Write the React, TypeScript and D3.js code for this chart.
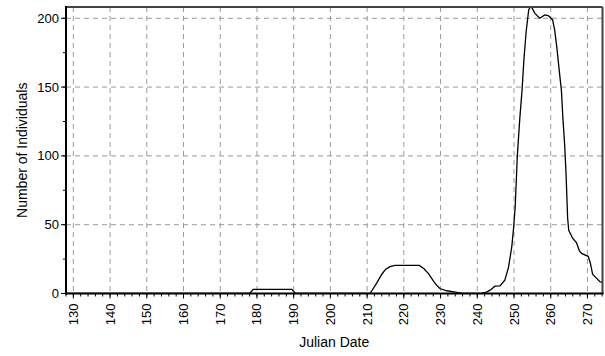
import React from "react";
import * as d3 from "d3";

const days: number[] = [128, 177, 178, 179, 189.5, 190.5, 210.8, 212.6, 214, 215, 216.2, 217.6, 224.2, 225.5, 226.7, 228.5, 229.8, 231.7, 234.4, 236, 241, 242.5, 243.5, 244.8, 246.2, 247.5, 248.5, 249.4, 249.9, 250.3, 250.6, 250.9, 251.6, 252.2, 252.7, 253.3, 254, 254.6, 255.7, 257, 258.4, 259.3, 260.5, 261.1, 261.7, 262.4, 262.9, 263.3, 263.8, 264.2, 264.6, 264.9, 266, 267, 267.8, 268.5, 270.2, 270.8, 271.4, 272.5, 273.4, 274, 274.7];
const counts: number[] = [0, 0, 0, 3, 3, 0, 0, 7.5, 14, 17.5, 19.5, 20.4, 20.4, 18, 14.5, 7.3, 3.6, 2, 0.8, 0, 0, 1, 2.4, 5.3, 5.5, 9.7, 19, 34, 48, 62, 80, 100, 128, 148, 170, 190, 206, 209, 203.6, 200, 202.4, 202, 199, 191, 178, 160, 148, 128, 108, 85, 55, 46, 40, 37, 31, 29, 27, 22, 14, 11, 8.5, 8, 9.7];

const xMajorTicks: number[] = [130, 140, 150, 160, 170, 180, 190, 200, 210, 220, 230, 240, 250, 260, 270];
const yMajorTicks: number[] = [0, 50, 100, 150, 200];
const xLabel = "Julian Date";
const yLabel = "Number of Individuals";

export default function App() {
  const W = 605, H = 356;
  const left = 66, right = 602.5, top = 7, bottom = 293.5;
  const x = d3.scaleLinear().domain([128, 274.1]).range([left, right]);
  const y = d3.scaleLinear().domain([0, 208.2]).range([bottom, top]);
  const xMinor = d3.range(128, 275, 2);
  const yMinor = d3.range(0, 208, 25);
  const data = days.map((d, i) => [d, counts[i]] as [number, number]);
  const line = d3.line<[number, number]>().x((d) => x(d[0])).y((d) => y(d[1]));
  const font = "Liberation Sans, Arial, sans-serif";
  const grid = "#9a9a9a";
  return (
    <svg width={W} height={H} style={{ position: "absolute", left: 0, top: 0, background: "#fff" }}>
      <defs>
        <clipPath id="plot">
          <rect x={left} y={top} width={right - left} height={bottom - top} />
        </clipPath>
      </defs>
      <rect x={0} y={0} width={W} height={H} fill="#fff" />
      {xMajorTicks.map((t) => (
        <line key={"gx" + t} x1={x(t)} x2={x(t)} y1={top} y2={bottom} stroke={grid} strokeWidth={1} strokeDasharray="5,4" />
      ))}
      {yMajorTicks.filter((t) => t > 0).map((t) => (
        <line key={"gy" + t} x1={left} x2={right} y1={y(t)} y2={y(t)} stroke={grid} strokeWidth={1} strokeDasharray="5,4" />
      ))}
      <path d={line(data) || ""} fill="none" stroke="#000" strokeWidth={1.3} clipPath="url(#plot)" />
      {/* frame */}
      <line x1={left} x2={right} y1={top} y2={top} stroke="#444" strokeWidth={2} />
      <line x1={right} x2={right} y1={top} y2={bottom} stroke="#444" strokeWidth={2} />
      <line x1={left} x2={left} y1={top - 1} y2={bottom + 1} stroke="#000" strokeWidth={2} />
      <line x1={left - 1} x2={right + 1} y1={bottom} y2={bottom} stroke="#000" strokeWidth={2} />
      {/* x ticks */}
      {xMinor.map((t) => (
        <line key={"xm" + t} x1={x(t)} x2={x(t)} y1={bottom} y2={bottom + 3} stroke="#000" strokeWidth={1} />
      ))}
      {xMajorTicks.map((t) => (
        <line key={"xM" + t} x1={x(t)} x2={x(t)} y1={bottom} y2={bottom + 5} stroke="#000" strokeWidth={1} />
      ))}
      {xMajorTicks.map((t) => (
        <text key={"xl" + t} transform={`translate(${x(t) + 4.5},${bottom + 10}) rotate(-90)`} textAnchor="end" fontFamily={font} fontSize={13} fill="#000">
          {t}
        </text>
      ))}
      {/* y ticks */}
      {yMinor.map((t) => (
        <line key={"ym" + t} x1={left - 3} x2={left} y1={y(t)} y2={y(t)} stroke="#000" strokeWidth={1} />
      ))}
      {yMajorTicks.map((t) => (
        <line key={"yM" + t} x1={left - 5} x2={left} y1={y(t)} y2={y(t)} stroke="#000" strokeWidth={1} />
      ))}
      {yMajorTicks.map((t) => (
        <text key={"yl" + t} x={left - 7} y={y(t) + 4.5} textAnchor="end" fontFamily={font} fontSize={13} fill="#000">
          {t}
        </text>
      ))}
      <text x={(left + right) / 2} y={346.5} textAnchor="middle" fontFamily={font} fontSize={14} fill="#000">
        {xLabel}
      </text>
      <text transform={`translate(26.5,${(top + bottom) / 2}) rotate(-90)`} textAnchor="middle" fontFamily={font} fontSize={14} fill="#000">
        {yLabel}
      </text>
    </svg>
  );
}
